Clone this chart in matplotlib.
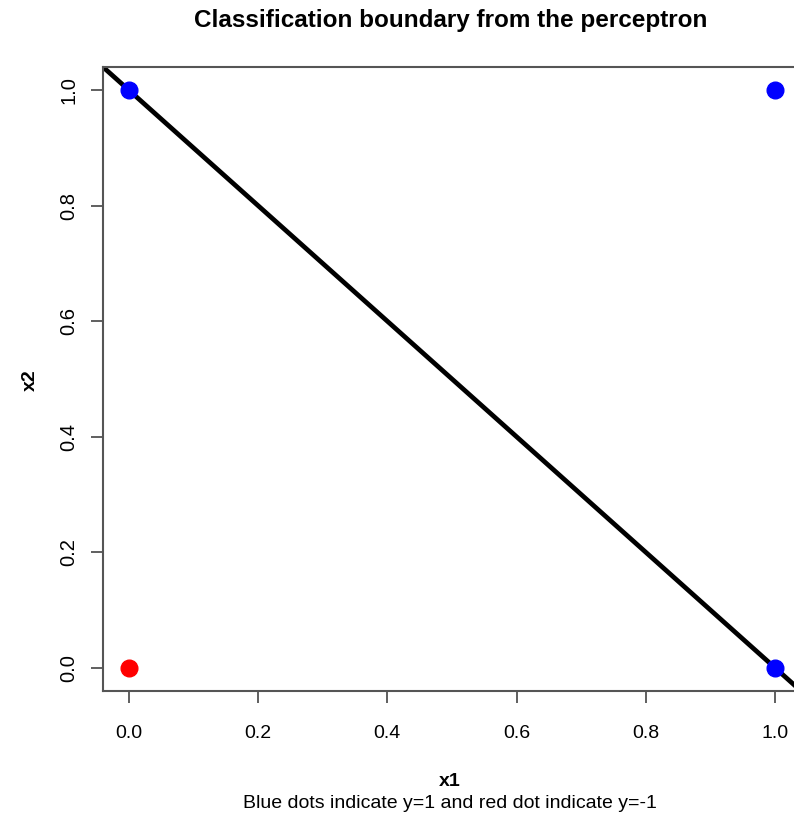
import matplotlib
matplotlib.use("Agg")
import matplotlib.pyplot as plt
import numpy as np

plt.rcParams['font.family'] = ['Liberation Sans', 'DejaVu Sans']

# data points
x1_pos = [0, 1, 1]
x2_pos = [1, 1, 0]
x1_neg = [0]
x2_neg = [0]
# boundary: w1*x1 + w2*x2 = b
w = [1.0, 1.0]
b = 1.0
ticks = [0.0, 0.2, 0.4, 0.6, 0.8, 1.0]

W, H = 794, 816
fig = plt.figure(figsize=(W / 100, H / 100), dpi=100)
# axes box in pixels: left 103, right 801 (cropped), top 67, bottom 691
ax = fig.add_axes([103 / W, 1 - 691 / H, (801 - 103) / W, (691 - 67) / H])
ax.set_xlim(-0.04, 1.04)
ax.set_ylim(-0.04, 1.04)

xs = np.array([-0.1, 1.1])
ax.plot(xs, (b - w[0] * xs) / w[1], color='black', lw=3.4, zorder=2)
ax.plot(x1_pos, x2_pos, 'o', color='#0000ff', ms=12, zorder=3)
ax.plot(x1_neg, x2_neg, 'o', color='#ff0000', ms=12, zorder=3)

ax.set_xticks(ticks)
ax.set_yticks(ticks)
ax.set_xticklabels(["%.1f" % t for t in ticks], fontsize=14)
ax.set_yticklabels(["%.1f" % t for t in ticks], fontsize=14.5, rotation=90, va='center')
ax.tick_params(direction='out', length=8.5, width=1.2, color='#444444')
ax.tick_params(axis='x', pad=16)
ax.tick_params(axis='y', pad=9)
for s in ax.spines.values():
    s.set_color('#555555')
    s.set_linewidth(1.5)

fig.text(451 / W, 1 - 27 / H, "Classification boundary from the perceptron",
         ha='center', va='baseline', fontsize=17.5, fontweight='bold')
fig.text(450 / W, 1 - 786 / H, "x1", ha='center', va='baseline', fontsize=14, fontweight='bold')
fig.text(450 / W, 1 - 808 / H, "Blue dots indicate y=1 and red dot indicate y=-1",
         ha='center', va='baseline', fontsize=14)
fig.text(30 / W, 1 - 380 / H, "x2", ha='center', va='center', fontsize=14,
         fontweight='bold', rotation=90)

fig.savefig("out.png", dpi=100)
